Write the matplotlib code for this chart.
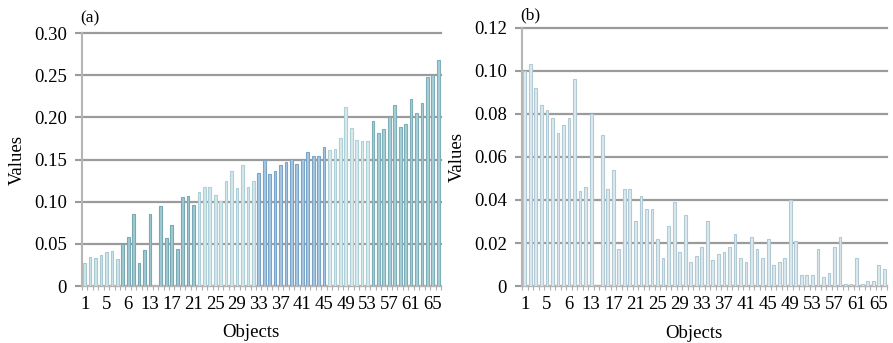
import numpy as np
import matplotlib
matplotlib.use('Agg')
import matplotlib.pyplot as plt

plt.rcParams['font.family'] = ['Liberation Serif', 'DejaVu Serif']

# ── Data ─────────────────────────────────────────────────────────────────
values_a = [0.027, 0.035, 0.033, 0.037, 0.040, 0.042, 0.032, 0.050, 0.058, 0.086,
            0.027, 0.043, 0.086, 0.000, 0.095, 0.057, 0.072, 0.044, 0.106, 0.107,
            0.096, 0.112, 0.118, 0.118, 0.108, 0.101, 0.124, 0.137, 0.116, 0.143,
            0.117, 0.124, 0.134, 0.149, 0.133, 0.137, 0.143, 0.147, 0.151, 0.145,
            0.151, 0.159, 0.154, 0.154, 0.165, 0.161, 0.163, 0.175, 0.212, 0.187,
            0.173, 0.172, 0.172, 0.196, 0.181, 0.186, 0.200, 0.215, 0.189, 0.192,
            0.222, 0.205, 0.217, 0.248, 0.250, 0.268]

values_b = [0.100, 0.103, 0.092, 0.084, 0.082, 0.078, 0.071, 0.075, 0.078, 0.096,
            0.044, 0.046, 0.080, 0.000, 0.070, 0.045, 0.054, 0.017, 0.045, 0.045,
            0.030, 0.042, 0.036, 0.036, 0.022, 0.013, 0.028, 0.039, 0.016, 0.033,
            0.011, 0.014, 0.018, 0.030, 0.012, 0.015, 0.016, 0.018, 0.024, 0.013,
            0.011, 0.023, 0.017, 0.013, 0.022, 0.010, 0.011, 0.013, 0.040, 0.021,
            0.005, 0.005, 0.005, 0.017, 0.004, 0.006, 0.018, 0.023, 0.001, 0.001,
            0.013, 0.001, 0.0025, 0.0025, 0.010, 0.008]

x_ticks = [1, 5, 9, 13, 17, 21, 25, 29, 33, 37, 41, 45, 49, 53, 57, 61, 65]
x_tick_labels = ['1', '5', '6', '13', '17', '21', '25', '29', '33', '37',
                 '41', '45', '49', '53', '57', '61', '65']

yticks_a = [0, 0.05, 0.10, 0.15, 0.20, 0.25, 0.30]
ylabels_a = ['0', '0.05', '0.10', '0.15', '0.20', '0.25', '0.30']
yticks_b = [0, 0.02, 0.04, 0.06, 0.08, 0.10, 0.12]
ylabels_b = ['0', '0.02', '0.04', '0.06', '0.08', '0.10', '0.12']

# colour bands of panel (a): (first object, last object, fill, edge)
bands_a = [(1, 7, '#cfe5ea', '#a6c9d2'),
           (8, 21, '#a2c9d1', '#78a9b5'),
           (22, 32, '#d5e8ec', '#aecfd7'),
           (33, 45, '#a8c6e0', '#7ba4c9'),
           (46, 53, '#d8eaee', '#b0d0d7'),
           (54, 66, '#a9cfd5', '#7eaeb7')]

GRID = '#9b9b9b'


def style_axis(ax, ymax, yticks, ylabels):
    ax.set_xlim(0.5, len(values_a) + 0.5)
    ax.set_ylim(0, ymax)
    ax.set_yticks(yticks)
    ax.set_yticklabels(ylabels, fontsize=13.5)
    ax.set_xticks(x_ticks)
    ax.set_xticklabels(x_tick_labels, fontsize=13.5)
    ax.set_xticks(np.arange(0.5, len(values_a) + 1, 1), minor=True)
    ax.tick_params(axis='x', which='major', length=0, pad=7)
    ax.tick_params(axis='x', which='minor', length=3, color='#b0b0b0', width=0.8)
    ax.tick_params(axis='y', length=5, color=GRID, width=1.5, pad=6)
    ax.yaxis.grid(True, color=GRID, linewidth=1.6)
    for gl in ax.get_ygridlines():
        gl.set_clip_on(False)
    ax.set_axisbelow(True)
    for s in ('top', 'right'):
        ax.spines[s].set_visible(False)
    ax.spines['left'].set_color('#b5b5b5')
    ax.spines['left'].set_linewidth(1.5)
    ax.spines['bottom'].set_color('#b5b5b5')
    ax.spines['bottom'].set_linewidth(1.5)
    ax.set_ylabel('Values', fontsize=13.5, labelpad=6)
    ax.set_xlabel('Objects', fontsize=13.5, labelpad=6)
    ax.xaxis.set_label_coords(0.47, -0.15)


fig = plt.figure(figsize=(8.93, 3.43), dpi=100)
ax1 = fig.add_axes([0.0918, 0.166, 0.402, 0.7376])
ax2 = fig.add_axes([0.5846, 0.166, 0.4087, 0.753])

# Panel (a)
xs = np.arange(1, len(values_a) + 1)
fills, edges = [], []
for n in xs:
    for lo, hi, fc, ec in bands_a:
        if lo <= n <= hi:
            fills.append(fc)
            edges.append(ec)
ax1.bar(xs, values_a, width=0.5, color=fills, edgecolor=edges, linewidth=0.8, zorder=3)
style_axis(ax1, 0.30, yticks_a, ylabels_a)

# Panel (b)
xs_b = np.arange(1, len(values_b) + 1)
ax2.bar(xs_b, values_b, width=0.5, color='#dde9ef', edgecolor='#b2c9d6',
        linewidth=0.8, zorder=3)
style_axis(ax2, 0.12, yticks_b, ylabels_b)

fig.text(80 / 893, 1 - 18 / 343, '(a)', fontsize=12.5, va='center', ha='left')
fig.text(520 / 893, 1 - 15 / 343, '(b)', fontsize=12.5, va='center', ha='left')

fig.savefig('out.png', dpi=100)
